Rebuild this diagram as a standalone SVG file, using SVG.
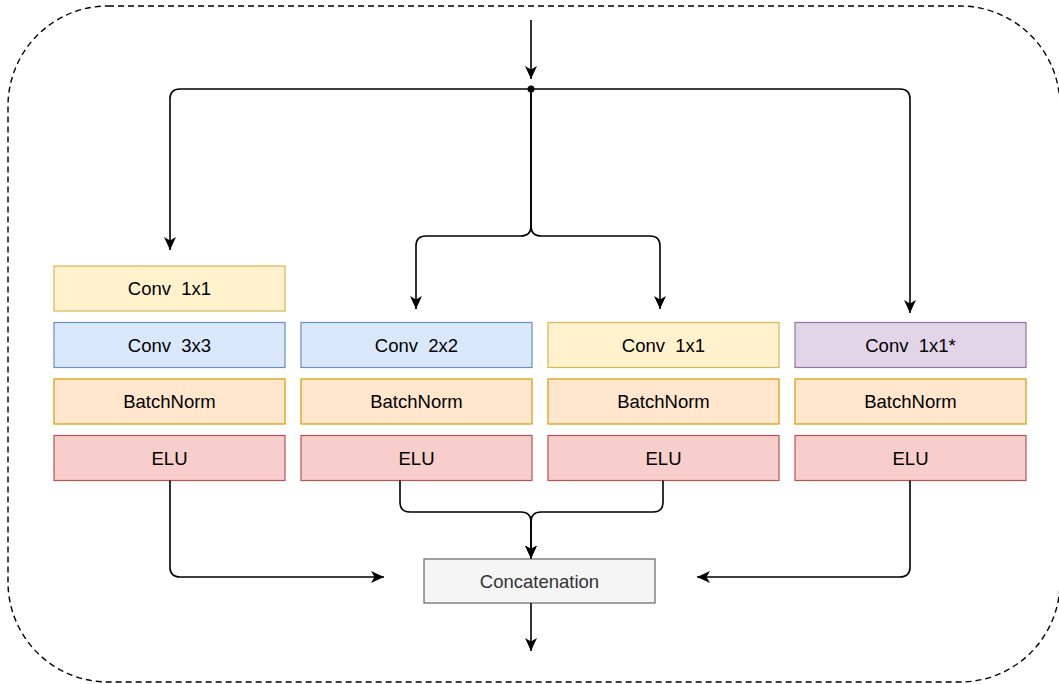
<svg xmlns="http://www.w3.org/2000/svg" width="1059" height="684" viewBox="0 0 1059 684">
  <style>
    .box { stroke-width: 1.2; }
    .yellow { fill: #fff2cc; stroke: #d6b656; }
    .blue { fill: #dae8fc; stroke: #6c8ebf; }
    .orange { fill: #ffe6cc; stroke: #d79b00; }
    .red { fill: #f8cecc; stroke: #b85450; }
    .purple { fill: #e1d5e7; stroke: #9673a6; }
    .gray { fill: #f5f5f5; stroke: #666666; }
    .label { font-family: "Liberation Sans", Arial, sans-serif; font-size: 18.5px; fill: #000; text-anchor: middle; white-space: pre; }
    .label.dim { fill: #333333; }
    .edge { fill: none; stroke: #000; stroke-width: 1.6; }
    .frame { fill: none; stroke: #000; stroke-width: 1.4; stroke-dasharray: 6 4; }
  </style>
  <defs>
    <marker id="arrow" viewBox="0 0 13 13" markerWidth="13" markerHeight="13" refX="13" refY="6.5" orient="auto" markerUnits="userSpaceOnUse">
      <path d="M0,0.5 L13,6.5 L0,12.5 L3.5,6.5 z" fill="#000"/>
    </marker>
  </defs>

  <!-- dashed module outline -->
  <rect class="frame" x="8" y="6" width="1052" height="676" rx="100" ry="100"/>

  <!-- branch 1 -->
  <g id="b1-conv1x1"><rect class="box yellow" x="54" y="266" width="231" height="45"/><text class="label" x="169.5" y="295">Conv  1x1</text></g>
  <g id="b1-conv3x3"><rect class="box blue" x="54" y="322.5" width="231" height="45"/><text class="label" x="169.5" y="351.5">Conv  3x3</text></g>
  <g id="b1-bn"><rect class="box orange" x="54" y="379" width="231" height="45"/><text class="label" x="169.5" y="408">BatchNorm</text></g>
  <g id="b1-elu"><rect class="box red" x="54" y="435.5" width="231" height="45"/><text class="label" x="169.5" y="464.5">ELU</text></g>

  <!-- branch 2 -->
  <g id="b2-conv2x2"><rect class="box blue" x="301" y="322.5" width="231" height="45"/><text class="label" x="416.5" y="351.5">Conv  2x2</text></g>
  <g id="b2-bn"><rect class="box orange" x="301" y="379" width="231" height="45"/><text class="label" x="416.5" y="408">BatchNorm</text></g>
  <g id="b2-elu"><rect class="box red" x="301" y="435.5" width="231" height="45"/><text class="label" x="416.5" y="464.5">ELU</text></g>

  <!-- branch 3 -->
  <g id="b3-conv1x1"><rect class="box yellow" x="548" y="322.5" width="231" height="45"/><text class="label" x="663.5" y="351.5">Conv  1x1</text></g>
  <g id="b3-bn"><rect class="box orange" x="548" y="379" width="231" height="45"/><text class="label" x="663.5" y="408">BatchNorm</text></g>
  <g id="b3-elu"><rect class="box red" x="548" y="435.5" width="231" height="45"/><text class="label" x="663.5" y="464.5">ELU</text></g>

  <!-- branch 4 -->
  <g id="b4-conv1x1s"><rect class="box purple" x="795" y="322.5" width="231" height="45"/><text class="label" x="910.5" y="351.5">Conv  1x1*</text></g>
  <g id="b4-bn"><rect class="box orange" x="795" y="379" width="231" height="45"/><text class="label" x="910.5" y="408">BatchNorm</text></g>
  <g id="b4-elu"><rect class="box red" x="795" y="435.5" width="231" height="45"/><text class="label" x="910.5" y="464.5">ELU</text></g>

  <!-- merge -->
  <g id="concat"><rect class="box gray" x="424" y="559" width="231" height="44"/><text class="label dim" x="539.5" y="587.5">Concatenation</text></g>

  <!-- connectors -->
  <g id="connectors">
    <path class="edge" d="M531,20 V79" marker-end="url(#arrow)"/>
    <circle cx="531" cy="89" r="3.5" fill="#000"/>
    <path class="edge" d="M531,89 H180 Q170,89 170,99 V250" marker-end="url(#arrow)"/>
    <path class="edge" d="M531,89 H900 Q910,89 910,99 V313" marker-end="url(#arrow)"/>
    <path class="edge" d="M531,89 V226 Q531,236 521,236 H426 Q416,236 416,246 V309" marker-end="url(#arrow)"/>
    <path class="edge" d="M531,89 V226 Q531,236 541,236 H650 Q660,236 660,246 V309" marker-end="url(#arrow)"/>

    <path class="edge" d="M170,480.5 V567 Q170,577 180,577 H384" marker-end="url(#arrow)"/>
    <path class="edge" d="M910,480.5 V567 Q910,577 900,577 H697" marker-end="url(#arrow)"/>
    <path class="edge" d="M400,480.5 V502 Q400,512 410,512 H521 Q531,512 531,522 V558.5" marker-end="url(#arrow)"/>
    <path class="edge" d="M663,480.5 V502 Q663,512 653,512 H541 Q531,512 531,522 V558.5" marker-end="url(#arrow)"/>
    <path class="edge" d="M531,603 V651" marker-end="url(#arrow)"/>
  </g>
</svg>
